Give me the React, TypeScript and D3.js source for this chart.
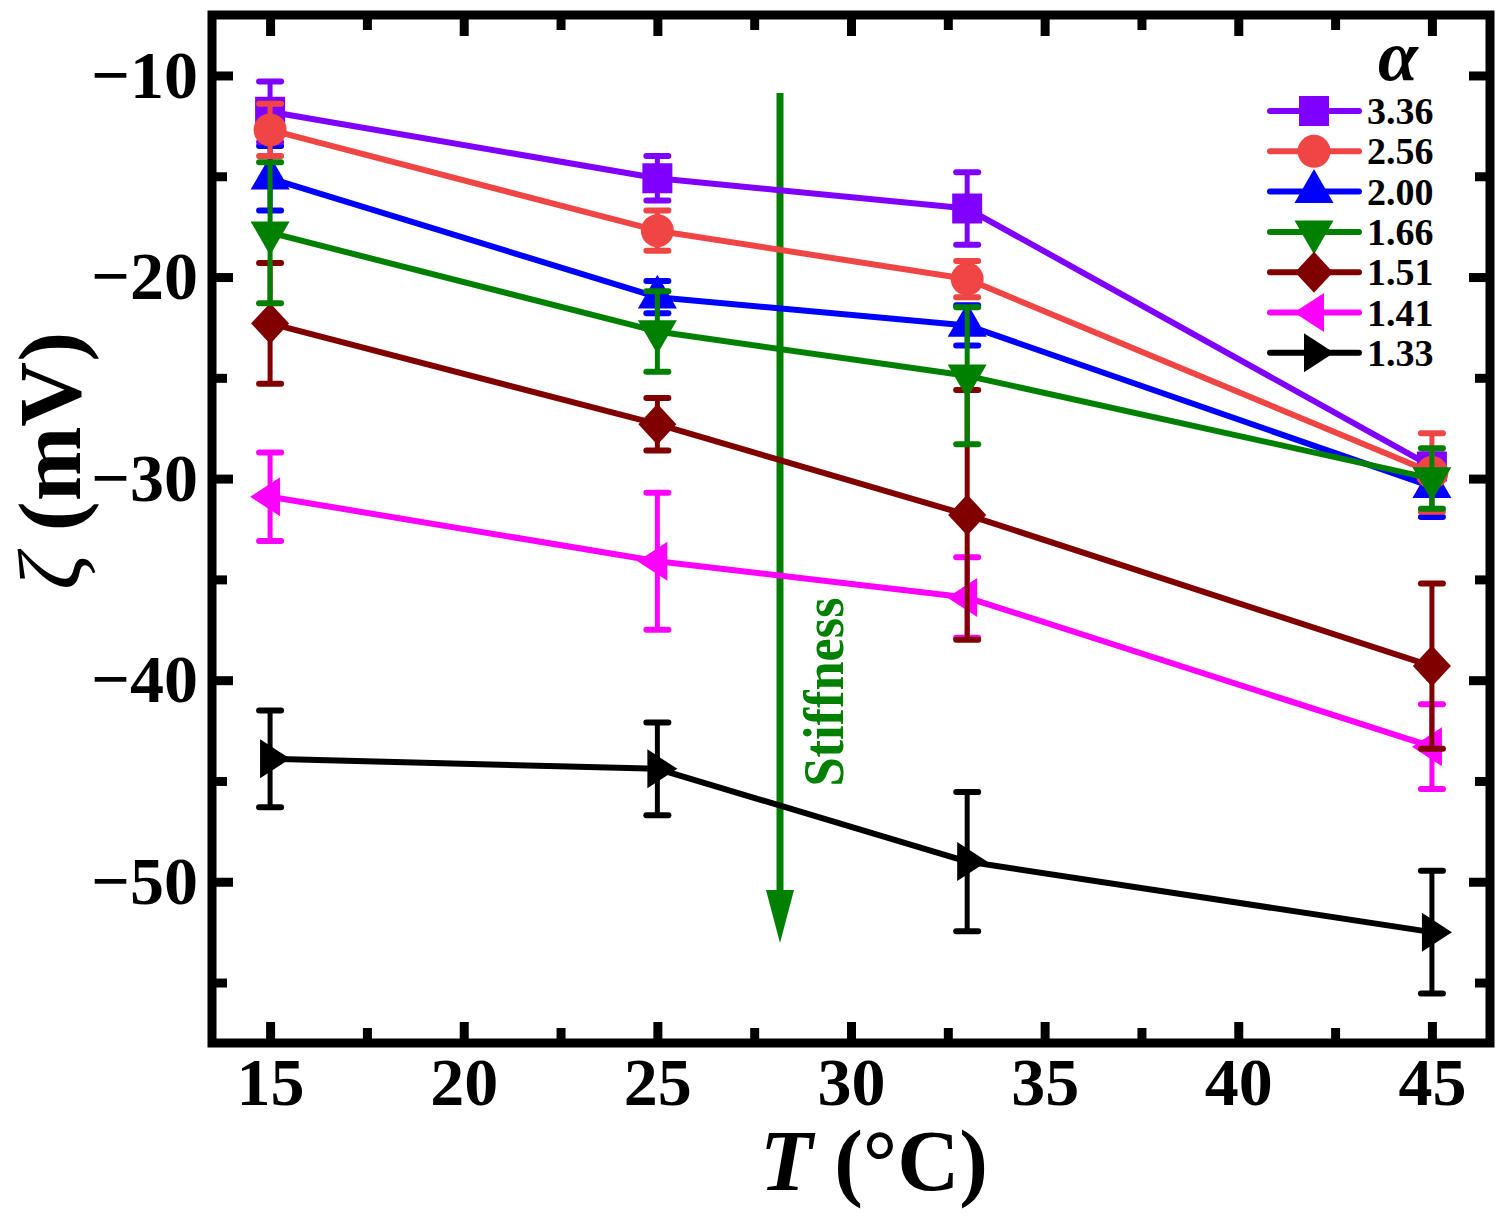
import React, { useEffect, useRef } from "react"
import * as d3 from "d3"

// temperatures (°C)
const temps = [15, 25, 33, 45]

// alpha values shown in legend
const alphaLabels = ["3.36", "2.56", "2.00", "1.66", "1.51", "1.41", "1.33"]

// zeta potential (mV) per alpha, and error bars
const zeta336 = [-11.8, -15.1, -16.6, -29.4]
const err336 = [1.5, 1.1, 1.8, 0.6]
const zeta256 = [-12.7, -17.7, -20.1, -29.7]
const err256 = [1.3, 1.0, 0.9, 1.95]
const zeta200 = [-15.1, -21.0, -22.4, -30.4]
const err200 = [1.6, 0.8, 1.0, 1.5]
const zeta166 = [-17.8, -22.7, -24.9, -30.0]
const err166 = [3.5, 2.0, 3.4, 1.5]
const zeta151 = [-22.3, -27.3, -31.8, -39.3]
const err151 = [3.0, 1.3, 6.2, 4.1]
const zeta141 = [-30.9, -34.1, -35.9, -43.3]
const err141 = [2.2, 3.4, 2.0, 2.1]
const zeta133 = [-43.9, -44.4, -49.0, -52.5]
const err133 = [2.4, 2.3, 3.45, 3.05]

const xTicks = [15, 20, 25, 30, 35, 40, 45]
const yTicks = [-10, -20, -30, -40, -50]

type Shape = "square" | "circle" | "up" | "down" | "diamond" | "left" | "right"

interface Series {
  label: string
  values: number[]
  errors: number[]
  color: string
  shape: Shape
}

const series: Series[] = [
  { label: alphaLabels[0], values: zeta336, errors: err336, color: "#8000FF", shape: "square" },
  { label: alphaLabels[1], values: zeta256, errors: err256, color: "#F04545", shape: "circle" },
  { label: alphaLabels[2], values: zeta200, errors: err200, color: "#0000FF", shape: "up" },
  { label: alphaLabels[3], values: zeta166, errors: err166, color: "#008000", shape: "down" },
  { label: alphaLabels[4], values: zeta151, errors: err151, color: "#800000", shape: "diamond" },
  { label: alphaLabels[5], values: zeta141, errors: err141, color: "#FF00FF", shape: "left" },
  { label: alphaLabels[6], values: zeta133, errors: err133, color: "#000000", shape: "right" },
]

// drawing order (last on top)
const drawOrder = ["1.33", "1.41", "1.51", "2.00", "3.36", "2.56", "1.66"]

const FONT = "'Liberation Serif', 'Times New Roman', serif"

function markerPath(shape: Shape): string {
  switch (shape) {
    case "square":
      return "M-15,-15H15V15H-15Z"
    case "circle":
      return d3.symbol(d3.symbolCircle, Math.PI * 16.5 * 16.5)() || ""
    case "up":
      return "M0,-22.5L19.5,11.3L-19.5,11.3Z"
    case "down":
      return "M0,22.5L19.5,-11.3L-19.5,-11.3Z"
    case "diamond":
      return "M0,-20.5L19,0L0,20.5L-19,0Z"
    case "left":
      return "M-20,0L10,-19.5L10,19.5Z"
    case "right":
      return "M20,0L-10,-19.5L-10,19.5Z"
  }
}

export default function App() {
  const svgRef = useRef<SVGSVGElement>(null)

  useEffect(() => {
    if (!svgRef.current) return
    const svg = d3.select(svgRef.current)
    svg.selectAll("*").remove()

    const left = 212, right = 1490, top = 15, bottom = 1043
    const x = d3.scaleLinear().domain([13.5, 46.5]).range([left, right])
    const y = d3.scaleLinear().domain([-58, -7]).range([bottom, top])

    const minorX = d3.range(12.5, 47, 2.5).filter(v => v % 5 !== 0 && v > 13.5 && v < 46.5)
    const minorY = d3.range(-55, -7, 5).filter(v => v % 10 !== 0)

    const tickStyle = (g: d3.Selection<SVGGElement, unknown, null, undefined>) => {
      g.select(".domain").remove()
      g.selectAll(".tick line").attr("stroke", "#000").attr("stroke-width", 9)
      g.selectAll(".tick text")
        .attr("font-family", FONT)
        .attr("font-weight", "bold")
        .attr("font-size", 68)
        .attr("fill", "#000")
    }

    // major + minor ticks on all four sides (inward)
    const axes = svg.append("g")
    axes.append("g").attr("transform", `translate(0,${bottom})`)
      .call(d3.axisBottom(x).tickValues(xTicks).tickSize(-21).tickPadding(14).tickFormat(d3.format("d")))
      .call(tickStyle)
    axes.append("g").attr("transform", `translate(0,${bottom})`)
      .call(d3.axisBottom(x).tickValues(minorX).tickSize(-15).tickFormat(() => ""))
      .call(tickStyle)
    axes.append("g").attr("transform", `translate(0,${top})`)
      .call(d3.axisTop(x).tickValues(xTicks).tickSize(-21).tickFormat(() => ""))
      .call(tickStyle)
    axes.append("g").attr("transform", `translate(0,${top})`)
      .call(d3.axisTop(x).tickValues(minorX).tickSize(-15).tickFormat(() => ""))
      .call(tickStyle)
    axes.append("g").attr("transform", `translate(${left},0)`)
      .call(d3.axisLeft(y).tickValues(yTicks).tickSize(-21).tickPadding(14).tickFormat(d3.format("d")))
      .call(tickStyle)
    axes.append("g").attr("transform", `translate(${left},0)`)
      .call(d3.axisLeft(y).tickValues(minorY).tickSize(-15).tickFormat(() => ""))
      .call(tickStyle)
    axes.append("g").attr("transform", `translate(${right},0)`)
      .call(d3.axisRight(y).tickValues(yTicks).tickSize(-21).tickFormat(() => ""))
      .call(tickStyle)
    axes.append("g").attr("transform", `translate(${right},0)`)
      .call(d3.axisRight(y).tickValues(minorY).tickSize(-15).tickFormat(() => ""))
      .call(tickStyle)

    // stiffness arrow
    const arrowX = 780
    svg.append("line")
      .attr("x1", arrowX).attr("x2", arrowX)
      .attr("y1", 93).attr("y2", 895)
      .attr("stroke", "#008000").attr("stroke-width", 7)
    svg.append("path")
      .attr("d", `M${arrowX - 14},890L${arrowX + 14},890L${arrowX},943Z`)
      .attr("fill", "#008000")
    svg.append("text")
      .attr("transform", `translate(843,692) rotate(-90)`)
      .attr("text-anchor", "middle")
      .attr("font-family", FONT)
      .attr("font-weight", "bold")
      .attr("font-size", 56)
      .attr("fill", "#008000")
      .attr("textLength", 189)
      .attr("lengthAdjust", "spacingAndGlyphs")
      .text("Stiffness")

    // series
    const line = d3.line<number>()
      .x((_, i) => x(temps[i]))
      .y(d => y(d))

    const plot = svg.append("g")
    drawOrder.forEach(lbl => {
      const s = series.find(d => d.label === lbl)!
      const g = plot.append("g")
      g.append("path")
        .attr("d", line(s.values) || "")
        .attr("fill", "none")
        .attr("stroke", s.color)
        .attr("stroke-width", 6)
        .attr("stroke-linejoin", "round")

      s.values.forEach((v, i) => {
        const cx = x(temps[i])
        const yt = y(v + s.errors[i])
        const yb = y(v - s.errors[i])
        g.append("line")
          .attr("x1", cx).attr("x2", cx).attr("y1", yt).attr("y2", yb)
          .attr("stroke", s.color).attr("stroke-width", 5)
        ;[yt, yb].forEach(yy => {
          g.append("line")
            .attr("x1", cx - 11).attr("x2", cx + 11).attr("y1", yy).attr("y2", yy)
            .attr("stroke", s.color).attr("stroke-width", 6)
            .attr("stroke-linecap", "round")
        })
        g.append("path")
          .attr("transform", `translate(${cx},${y(v)})`)
          .attr("d", markerPath(s.shape))
          .attr("fill", s.color)
      })
    })

    // legend
    const legend = svg.append("g")
    legend.append("text")
      .attr("x", 1398).attr("y", 80)
      .attr("text-anchor", "middle")
      .attr("font-family", FONT)
      .attr("font-style", "italic")
      .attr("font-weight", "bold")
      .attr("font-size", 72)
      .text("α")
    series.forEach((s, i) => {
      const ly = 111 + i * 40.3
      legend.append("line")
        .attr("x1", 1270).attr("x2", 1359).attr("y1", ly).attr("y2", ly)
        .attr("stroke", s.color).attr("stroke-width", 6).attr("stroke-linecap", "round")
      legend.append("path")
        .attr("transform", `translate(1314,${ly})`)
        .attr("d", markerPath(s.shape))
        .attr("fill", s.color)
      legend.append("text")
        .attr("x", 1367).attr("y", ly + 13)
        .attr("font-family", FONT)
        .attr("font-weight", "bold")
        .attr("font-size", 38)
        .text(s.label)
    })

    // frame
    svg.append("rect")
      .attr("x", left).attr("y", top)
      .attr("width", right - left).attr("height", bottom - top)
      .attr("fill", "none").attr("stroke", "#000").attr("stroke-width", 9)

    // axis titles
    const xl = svg.append("text")
      .attr("x", 874).attr("y", 1190)
      .attr("text-anchor", "middle")
      .attr("font-family", FONT)
      .attr("font-weight", "bold")
      .attr("font-size", 86)
    xl.append("tspan").attr("font-style", "italic").text("T")
    xl.append("tspan").text(" (°C)")

    const yl = svg.append("text")
      .attr("transform", "translate(80,461) rotate(-90)")
      .attr("text-anchor", "middle")
      .attr("font-family", FONT)
      .attr("font-weight", "bold")
      .attr("font-size", 88)
      .attr("textLength", 258)
      .attr("lengthAdjust", "spacingAndGlyphs")
    yl.append("tspan").attr("font-style", "italic").attr("font-weight", "normal").text("ζ")
    yl.append("tspan").text(" (mV)")
  }, [])

  return (
    <svg
      ref={svgRef}
      width={1500}
      height={1217}
      style={{ position: "absolute", left: 0, top: 0, background: "#fff" }}
    />
  )
}
